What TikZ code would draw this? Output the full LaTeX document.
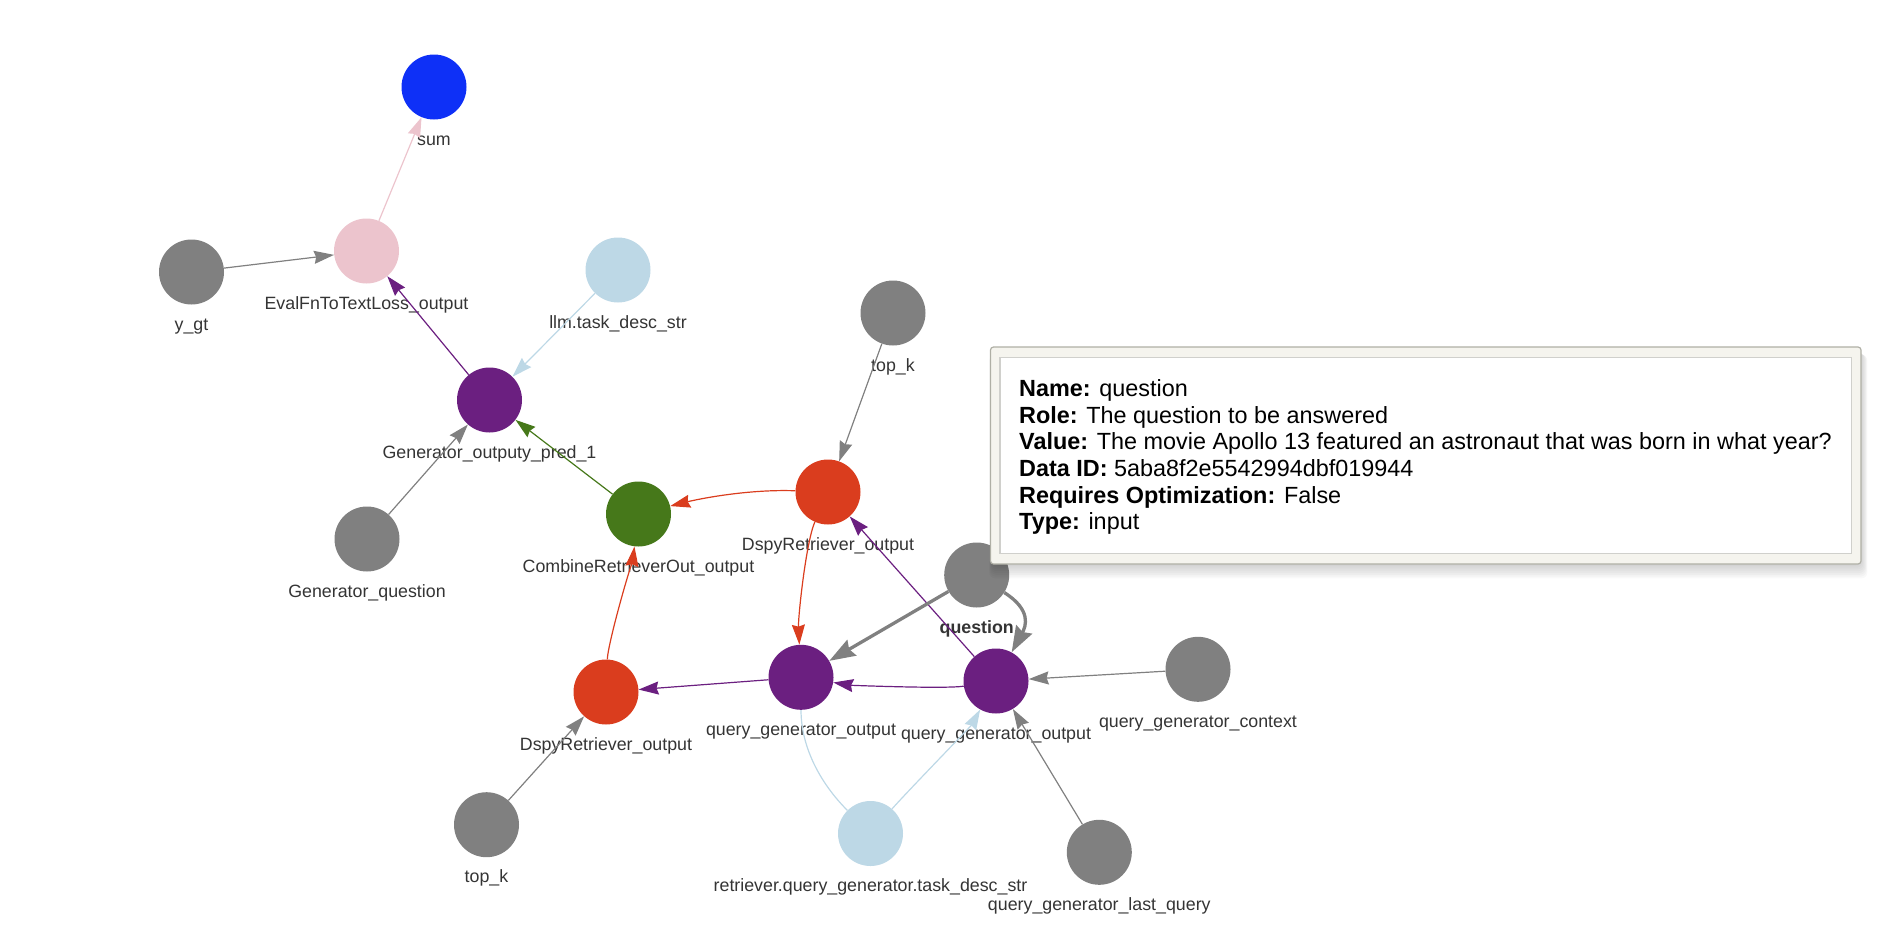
\documentclass[tikz,border=0pt]{standalone}
\usepackage{fontspec}
\setmainfont{Liberation Sans}
\usetikzlibrary{arrows.meta}
\definecolor{cblue}{RGB}{14,48,247}
\definecolor{cpink}{RGB}{236,196,205}
\definecolor{cgray}{RGB}{128,128,128}
\definecolor{clblue}{RGB}{189,216,230}
\definecolor{cpurple}{RGB}{107,31,128}
\definecolor{cgreen}{RGB}{70,120,26}
\definecolor{cred}{RGB}{218,61,30}
\definecolor{ctext}{RGB}{52,52,52}
\definecolor{ctipfill}{RGB}{245,244,238}
\definecolor{ctipborder}{RGB}{175,175,165}
\definecolor{ctipinner}{RGB}{208,208,204}
\newcommand{\usc}{\string_}
\begin{document}
\begin{tikzpicture}[x=1pt,y=-1pt,
  vnode/.style={circle, minimum size=65pt, inner sep=0pt, draw=none},
  lbl/.style={font=\fontsize{17.8}{20}\selectfont, text=ctext, anchor=base, inner sep=0pt},
  edge/.style={line width=1.2pt, -{Stealth[length=20pt,width=13pt,inset=2pt]}},
  plainedge/.style={line width=1.2pt},
  thickedge/.style={line width=3.3pt, -{Stealth[length=26pt,width=18pt,inset=3pt]}},
  tipline/.style={font=\fontsize{23.4}{26}\selectfont, anchor=base west, inner sep=0pt, text=black},
]
\useasboundingbox (0,0) rectangle (1903,948);

% nodes
\node[vnode, fill=cblue] (S) at (434,87) {};
\node[vnode, fill=cpink] (E) at (366.5,251) {};
\node[vnode, fill=cgray] (Y) at (191.5,272) {};
\node[vnode, fill=clblue] (L) at (618,270) {};
\node[vnode, fill=cpurple] (G) at (489.5,400) {};
\node[vnode, fill=cgray] (Q) at (367,539) {};
\node[vnode, fill=cgreen] (C) at (638.5,514) {};
\node[vnode, fill=cgray] (T1) at (893,313) {};
\node[vnode, fill=cred] (D1) at (828,492) {};
\node[vnode, fill=cgray] (QN) at (976.7,575) {};
\node[vnode, fill=cpurple] (A) at (801,677.3) {};
\node[vnode, fill=cpurple] (B) at (996,681) {};
\node[vnode, fill=cred] (D2) at (606,692) {};
\node[vnode, fill=clblue] (R) at (870.5,833.5) {};
\node[vnode, fill=cgray] (X) at (1198,669.3) {};
\node[vnode, fill=cgray] (LQ) at (1099.3,852.3) {};
\node[vnode, fill=cgray] (T2) at (486.5,824.7) {};

% labels
\node[lbl] (S-l) at ([yshift=-58pt]S.center) {sum};
\node[lbl] (E-l) at ([yshift=-58pt]E.center) {EvalFnToTextLoss\usc output};
\node[lbl] (Y-l) at ([yshift=-58pt]Y.center) {y\usc gt};
\node[lbl] (L-l) at ([yshift=-58pt]L.center) {llm.task\usc desc\usc str};
\node[lbl] (G-l) at ([yshift=-58pt]G.center) {Generator\usc outputy\usc pred\usc 1};
\node[lbl] (Q-l) at ([yshift=-58pt]Q.center) {Generator\usc question};
\node[lbl] (C-l) at ([yshift=-58pt]C.center) {CombineRetrieverOut\usc output};
\node[lbl] (T1-l) at ([yshift=-58pt]T1.center) {top\usc k};
\node[lbl] (D1-l) at ([yshift=-58pt]D1.center) {DspyRetriever\usc output};
\node[lbl, font=\fontsize{17.8}{20}\selectfont\bfseries] (QN-l) at ([yshift=-58pt]QN.center) {question};
\node[lbl] (A-l) at ([yshift=-58pt]A.center) {query\usc generator\usc output};
\node[lbl] (B-l) at ([yshift=-58pt]B.center) {query\usc generator\usc output};
\node[lbl] (D2-l) at ([yshift=-58pt]D2.center) {DspyRetriever\usc output};
\node[lbl] (R-l) at ([yshift=-58pt]R.center) {retriever.query\usc generator.task\usc desc\usc str};
\node[lbl] (X-l) at ([yshift=-58pt]X.center) {query\usc generator\usc context};
\node[lbl] (LQ-l) at ([yshift=-58pt]LQ.center) {query\usc generator\usc last\usc query};
\node[lbl] (T2-l) at ([yshift=-58pt]T2.center) {top\usc k};

% edges
\draw[edge, cpink] (E) -- (S);
\draw[edge, cgray] (Y) -- (E);
\draw[edge, cpurple] (G) -- (E);
\draw[edge, clblue] (L) -- (G);
\draw[edge, cgray] (Q) -- (G);
\draw[edge, cgreen] (C) -- (G);
\draw[edge, cgray] (T1) -- (D1);
\draw[edge, cred] (D1) .. controls +(-80,-3) and +(60,-15) .. (C);
\draw[edge, cred] (D2) .. controls +(2,-50) and +(-5,40) .. (C);
\draw[edge, cred] (D1) .. controls +(-22,50) and +(-3,-60) .. (A);
\draw[edge, cpurple] (B) -- (D1);
\draw[edge, cpurple] (A) -- (D2);
\draw[edge, cpurple] (B) .. controls +(-50,8) and +(50,8) .. (A);
\draw[thickedge, cgray] (QN) -- (A);
\draw[thickedge, cgray] (QN) .. controls +(55,35) and +(30,-55) .. (B);
\draw[edge, cgray] (X) -- (B);
\draw[edge, cgray] (LQ) -- (B);
\draw[plainedge, clblue] (R) .. controls +(-50,-50) and +(0,70) .. (A);
\draw[edge, clblue] (R) .. controls +(35,-40) and +(-25,45) .. (B);
\draw[edge, cgray] (T2) -- (D2);

% tooltip
\foreach \s in {1,...,8}
  \fill[black, opacity=0.025, rounded corners=6pt] (992.5-\s*0.4,350+\s*0.6) rectangle (1861+\s*0.8,564+\s*1.8);
\draw[fill=ctipfill, draw=ctipborder, line width=1.2pt, rounded corners=3pt] (990.5,347) rectangle (1861,564);
\draw[fill=white, draw=ctipinner, line width=1.6pt] (1000,357.3) rectangle (1851.4,553.3);
\node[tipline] (t1) at (1019,396.7) {\textbf{Name:} question};
\node[tipline] (t2) at (1019,423.3) {\textbf{Role:} The question to be answered};
\node[tipline] (t3) at (1019,449.9) {\textbf{Value:} The movie Apollo 13 featured an astronaut that was born in what year?};
\node[tipline] (t4) at (1019,476.5) {\textbf{Data ID:} 5aba8f2e5542994dbf019944};
\node[tipline] (t5) at (1019,503.1) {\textbf{Requires Optimization:} False};
\node[tipline] (t6) at (1019,529.7) {\textbf{Type:} input};
\end{tikzpicture}
\end{document}
